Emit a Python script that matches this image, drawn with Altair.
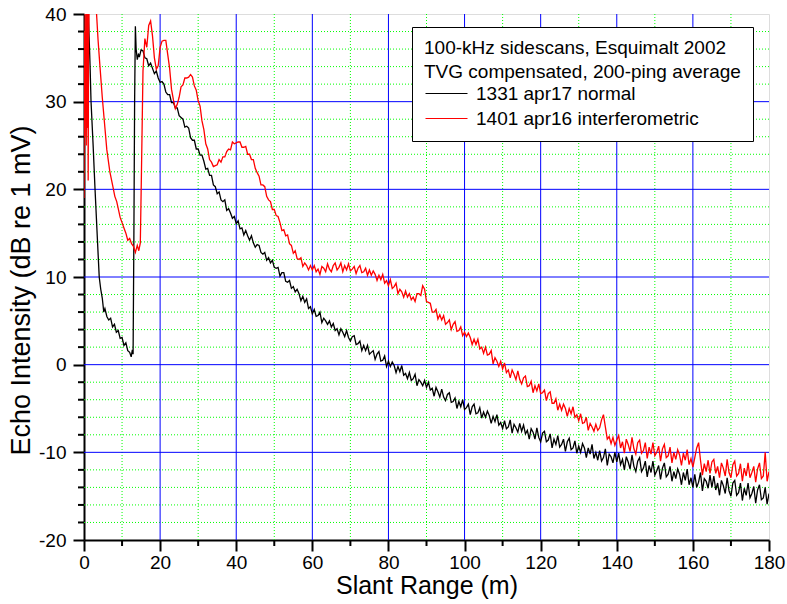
import altair as alt
import pandas as pd

FONT = "Liberation Sans"

SERIES = ["1331 apr17 normal", "1401 apr16 interferometric"]
SERIES_COLORS = ["#000000", "#ff0000"]
LEGEND_TITLE = ["100-kHz sidescans, Esquimalt 2002", "TVG compensated, 200-ping average"]
X_MAJOR = [0, 20, 40, 60, 80, 100, 120, 140, 160, 180]
X_MINOR = [10, 30, 50, 70, 90, 110, 130, 150, 170]
Y_MAJOR = [-20, -10, 0, 10, 20, 30, 40]
Y_MINOR = [-18, -16, -14, -12, -8, -6, -4, -2, 2, 4, 6, 8, 12, 14, 16, 18,
           22, 24, 26, 28, 32, 34, 36, 38]
X_GRID = [20, 40, 60, 80, 100, 120, 140, 160]
Y_GRID = [-10, 0, 10, 20, 30]

# near-range part (irregular sampling): slant range in m, echo in dB
BLACK_NEAR_X = [0.3, 0.6, 1.0, 1.3, 1.6, 1.85, 2.4, 2.9, 3.5, 4.0, 4.4, 4.8, 5.2, 5.5, 6.0, 6.5,
                7.0, 7.5, 8.0, 8.5, 9.0, 9.5, 10.0, 10.5, 11.0, 11.5, 12.0, 12.4, 12.7, 12.9,
                13.1, 13.3, 13.5, 13.7, 14.0, 14.3, 14.6, 15.0]
BLACK_NEAR_Y = [42, 42, 42, 38, 34, 30, 25, 20, 14.5, 10.0, 8.6, 7.6, 6.0, 6.4, 5.5, 5.1,
                5.3, 4.3, 4.6, 3.7, 3.9, 3.0, 3.1, 2.2, 2.5, 1.6, 1.4, 0.9, 1.7, 1.2,
                14, 30, 38.6, 36.0, 34.8, 35.4, 35.2, 35.9]

RED_NEAR_X = [0.0, 0.1, 0.2, 0.3, 0.4, 0.5, 0.6, 0.7, 0.8, 0.9, 1.0, 1.1, 1.2, 1.4, 2.0, 2.8,
              3.3, 3.7, 4.2, 4.8, 5.5, 6.0, 6.8, 7.5, 8.1, 8.6, 9.0, 9.5, 10.0, 10.5, 11.0,
              11.5, 12.0, 12.5, 13.0, 13.5, 14.0, 14.4, 14.8, 15.1]
RED_NEAR_Y = [19, 38, 26, 41, 30, 36, 25, 41, 33, 27, 41, 21, 37, 42, 45, 43,
              40, 37, 34, 30.5, 27, 24.5, 22, 20.5, 19.2, 18.6, 17.8, 16.8, 16.2, 15.6, 15.0,
              14.2, 14.4, 13.8, 13.5, 12.8, 13.6, 13.0, 13.9, 22]

# far-range part, sampled every 0.5 m from 15.5 m to 180 m
FAR_START = 15.5
FAR_STEP = 0.5

BLACK_FAR = [
    35.8, 35.0, 34.9, 34.1, 34.4, 33.8, 33.2, 33.5, 32.7, 32.2,
    32.3, 32.0, 31.1, 30.8, 30.8, 29.9, 29.9, 29.3, 29.3, 28.4,
    28.2, 28.0, 27.1, 27.2, 27.0, 25.9, 25.6, 25.6, 24.6, 24.6,
    23.9, 23.9, 23.2, 22.3, 22.4, 21.6, 21.6, 20.5, 20.3, 19.5,
    19.7, 18.8, 18.6, 18.8, 17.6, 17.8, 17.3, 16.7, 16.9, 16.1,
    16.4, 15.5, 15.6, 14.8, 15.3, 14.7, 14.2, 14.7, 13.9, 13.4,
    13.7, 13.6, 12.8, 12.6, 12.8, 11.9, 12.2, 11.6, 11.9, 11.1,
    11.0, 11.1, 10.1, 10.5, 10.5, 9.5, 9.4, 9.6, 8.7, 8.9,
    8.3, 8.6, 8.1, 7.3, 7.8, 7.1, 7.5, 6.4, 6.6, 5.8,
    6.3, 5.5, 5.6, 6.0, 4.8, 5.3, 5.0, 4.6, 5.0, 4.3,
    4.7, 3.9, 4.1, 3.4, 4.1, 3.7, 3.2, 3.9, 3.1, 2.7,
    3.2, 3.3, 2.3, 2.4, 2.7, 1.6, 2.2, 1.6, 2.2, 1.2,
    1.4, 1.6, 0.6, 1.2, 1.5, 0.4, 0.5, 1.0, -0.2, 0.4,
    -0.2, 0.3, -0.1, -0.9, -0.2, -0.8, -0.1, -1.2, -1.0, -1.6,
    -0.9, -1.8, -1.6, -1.1, -2.4, -1.7, -2.0, -2.4, -1.8, -2.6,
    -2.0, -2.9, -2.7, -3.6, -2.6, -3.1, -3.7, -2.8, -3.7, -4.1,
    -3.4, -3.2, -4.3, -4.2, -3.8, -5.0, -4.2, -4.8, -4.0, -5.1,
    -4.9, -4.5, -5.7, -4.8, -4.5, -5.6, -5.5, -4.9, -6.1, -5.4,
    -6.0, -5.3, -5.8, -6.7, -5.9, -6.5, -5.7, -6.9, -6.6, -7.3,
    -6.4, -7.3, -7.1, -6.3, -7.8, -6.8, -7.2, -7.7, -6.7, -7.6,
    -6.9, -7.9, -7.5, -8.5, -7.3, -7.7, -8.5, -7.2, -8.3, -8.8,
    -7.8, -7.6, -8.8, -8.6, -7.9, -9.5, -8.5, -9.1, -8.1, -9.4,
    -9.1, -8.5, -9.9, -8.8, -8.4, -9.7, -9.5, -8.7, -10.1, -9.3,
    -10.0, -9.0, -9.5, -10.6, -9.5, -10.2, -9.1, -10.7, -10.0, -10.9,
    -9.8, -11.0, -10.6, -9.6, -11.5, -10.2, -10.5, -11.2, -10.0, -11.1,
    -10.1, -11.4, -10.8, -12.0, -10.5, -11.1, -11.9, -10.3, -11.6, -12.2,
    -11.0, -10.6, -12.2, -11.8, -11.0, -12.8, -11.5, -12.3, -11.0, -12.6,
    -12.1, -11.5, -13.1, -11.8, -11.2, -12.8, -12.5, -11.6, -13.3, -12.2,
    -13.0, -11.9, -12.5, -13.7, -12.3, -13.2, -11.9, -13.7, -12.9, -14.0,
    -12.5, -14.0, -13.4, -12.3, -14.4, -13.0, -13.3, -14.1, -12.6, -14.0,
    -12.7, -14.3, -13.5, -14.9, -13.2, -13.8, -14.7, -12.9, -14.4, -15.0,
    -13.5, -13.2, -14.9, -14.6, -13.5, -15.5, -14.1, -14.9, -13.5, -15.2,
    -14.7, -13.9, -15.8, -14.3, -13.7, -15.4, -15.2, -14.0, -15.9, -14.7,
]

RED_FAR = [
    33.5, 37.2, 36.2, 38.7, 39.2, 37.5, 35.0, 33.7, 34.1, 36.2,
    36.9, 37.0, 37.0, 35.4, 33.8, 31.4, 30.2, 29.2, 29.7, 30.5,
    31.7, 31.9, 32.7, 32.7, 32.8, 33.1, 32.8, 31.8, 31.3, 30.1,
    29.5, 27.8, 26.8, 25.2, 24.6, 23.4, 23.1, 22.6, 22.7, 22.8,
    23.4, 23.1, 23.7, 23.7, 24.3, 24.6, 24.5, 25.4, 25.2, 25.3,
    25.4, 25.4, 24.8, 24.8, 24.9, 24.0, 24.0, 23.4, 23.4, 22.4,
    21.9, 21.5, 20.5, 20.5, 20.3, 19.2, 18.8, 18.6, 17.7, 17.7,
    17.0, 16.9, 16.2, 15.3, 15.4, 14.7, 14.8, 13.8, 13.6, 12.7,
    13.0, 12.1, 12.0, 12.2, 11.2, 11.6, 11.3, 10.8, 11.3, 10.8,
    11.3, 10.6, 10.9, 10.3, 11.2, 11.0, 10.6, 11.5, 10.9, 10.6,
    11.3, 11.6, 10.8, 11.1, 11.6, 10.6, 11.3, 10.8, 11.5, 10.7,
    10.9, 11.2, 10.4, 11.0, 11.3, 10.5, 10.6, 11.0, 10.2, 10.8,
    10.2, 10.7, 10.3, 9.6, 10.2, 9.7, 10.3, 9.3, 9.6, 9.0,
    9.7, 8.7, 8.9, 9.3, 8.1, 8.6, 8.3, 7.7, 8.4, 7.7,
    8.1, 7.4, 7.7, 7.2, 8.1, 8.1, 7.9, 9.0, 8.6, 7.2,
    7.1, 7.0, 6.0, 6.0, 6.3, 5.2, 5.7, 5.1, 5.6, 4.6,
    4.8, 5.1, 4.0, 4.6, 4.9, 3.8, 3.9, 4.3, 3.3, 3.7,
    3.2, 3.6, 3.1, 2.3, 2.9, 2.3, 2.9, 1.8, 2.0, 1.3,
    2.0, 1.1, 1.2, 1.6, 0.1, 0.8, 0.4, -0.2, 0.4, -0.5,
    0.2, -0.9, -0.6, -1.5, -0.6, -1.1, -1.7, -0.7, -1.7, -2.2,
    -1.5, -1.3, -2.5, -2.4, -1.9, -3.2, -2.4, -3.0, -2.2, -3.3,
    -3.2, -2.9, -4.1, -3.3, -3.1, -4.4, -4.4, -3.9, -5.2, -4.5,
    -5.2, -4.5, -5.0, -5.9, -5.0, -5.6, -4.8, -6.0, -5.7, -6.4,
    -5.6, -6.7, -6.6, -6.0, -7.5, -6.7, -7.1, -7.6, -6.8, -7.5,
    -7.2, -6.3, -5.7, -7.1, -8.5, -8.2, -9.0, -8.3, -9.2, -8.6,
    -8.1, -9.5, -8.8, -10.1, -8.5, -9.1, -9.9, -8.3, -9.6, -10.2,
    -8.9, -8.6, -10.1, -9.8, -8.9, -10.7, -9.4, -10.2, -8.9, -10.4,
    -10.0, -9.3, -11.0, -9.6, -9.1, -10.6, -10.4, -9.4, -11.2, -10.0,
    -10.8, -9.7, -10.3, -11.5, -10.1, -10.9, -9.7, -11.4, -10.7, -11.7,
    -10.6, -9.5, -8.9, -10.9, -12.6, -11.3, -12.2, -10.9, -12.4, -11.1,
    -10.8, -12.4, -11.6, -12.9, -11.2, -11.8, -12.7, -10.8, -12.3, -12.9,
    -11.4, -11.0, -12.7, -12.4, -11.3, -13.3, -11.8, -12.7, -11.2, -12.9,
    -12.3, -11.6, -13.4, -11.9, -11.2, -13.0, -12.7, -10.0, -13.3, -12.2,
]


def build(name, near_x, near_y, far):
    far_x = [FAR_START + FAR_STEP * i for i in range(len(far))]
    return pd.DataFrame({
        "range": list(near_x) + far_x,
        "echo": list(near_y) + list(far),
        "series": name,
    })


df = pd.concat([
    build(SERIES[0], BLACK_NEAR_X, BLACK_NEAR_Y, BLACK_FAR),
    build(SERIES[1], RED_NEAR_X, RED_NEAR_Y, RED_FAR),
], ignore_index=True)

W, H = 685, 526
GREEN = "#00ff00"
BLUE = "#0000ff"


def make_axis(values, label_pad, title_pad, title_size, **kw):
    return alt.Axis(
        values=values,
        labelExpr="'' + datum.value",
        grid=False,
        tickSize=11,
        tickWidth=2,
        tickColor="black",
        domainColor="black",
        domainWidth=2,
        labelFont=FONT,
        labelFontSize=19,
        labelColor="black",
        labelPadding=label_pad,
        labelFlush=False,
        labelOverlap=False,
        titleFont=FONT,
        titleFontSize=title_size,
        titleFontWeight="normal",
        titleColor="black",
        titlePadding=title_pad,
        **kw,
    )


x_axis = make_axis(X_MAJOR, 2, 1, 25)
y_axis = make_axis(Y_MAJOR, 7, 3, 27, titleY=276)
x_scale = alt.Scale(domain=[0, 180], nice=False, zero=False)
y_scale = alt.Scale(domain=[-20, 40], nice=False, zero=False)
X_TITLE = "Slant Range (m)"
Y_TITLE = "Echo Intensity (dB re 1 mV)"


def xenc():
    return alt.X("range:Q", title=X_TITLE, scale=x_scale, axis=x_axis)


def yenc():
    return alt.Y("echo:Q", title=Y_TITLE, scale=y_scale, axis=y_axis)


minor_x = pd.DataFrame({"range": X_MINOR})
minor_y = pd.DataFrame({"echo": Y_MINOR})
major_x = pd.DataFrame({"range": X_GRID})
major_y = pd.DataFrame({"echo": Y_GRID})

grid_x = alt.Chart(minor_x).mark_rule(color=GREEN, strokeDash=[1, 2], strokeWidth=1).encode(
    x=xenc())
grid_y = alt.Chart(minor_y).mark_rule(color=GREEN, strokeDash=[1, 2], strokeWidth=1).encode(
    y=yenc())
grid_X = alt.Chart(major_x).mark_rule(color=BLUE, strokeWidth=1).encode(x=xenc())
grid_Y = alt.Chart(major_y).mark_rule(color=BLUE, strokeWidth=1).encode(y=yenc())

lines = alt.Chart(df).mark_line(clip=True, strokeWidth=1.3).encode(
    x=xenc(),
    y=yenc(),
    color=alt.Color("series:N",
                    scale=alt.Scale(domain=SERIES, range=SERIES_COLORS),
                    legend=alt.Legend(
                        orient="none", legendX=328, legendY=13,
                        title=LEGEND_TITLE,
                        titleFont=FONT, titleFontSize=19, titleFontWeight="normal",
                        titleColor="black", titleLimit=0, titleLineHeight=24,
                        titlePadding=2,
                        labelFont=FONT, labelFontSize=19, labelColor="black",
                        labelLimit=0, labelOffset=33,
                        symbolType="M-1,0H4.25", symbolSize=256, symbolStrokeWidth=1,
                        padding=12, strokeColor="black", fillColor="white",
                        rowPadding=5,
                    )),
)

tick_x = alt.Chart(minor_x).mark_rule(color="black", strokeWidth=2).encode(
    x=xenc(), y=alt.value(H), y2=alt.value(H + 6))
tick_y = alt.Chart(minor_y).mark_rule(color="black", strokeWidth=2).encode(
    y=yenc(), x=alt.value(-6), x2=alt.value(0))

chart = alt.layer(grid_x, grid_y, grid_X, grid_Y, lines, tick_x, tick_y).properties(
    width=W, height=H,
    autosize=alt.AutoSizeParams(type="none"),
    padding={"left": 84, "top": 14, "right": 18, "bottom": 64},
).configure_view(stroke=None).configure(background="white")

chart.save("out.html", embed_options={"renderer": "svg", "actions": False})
